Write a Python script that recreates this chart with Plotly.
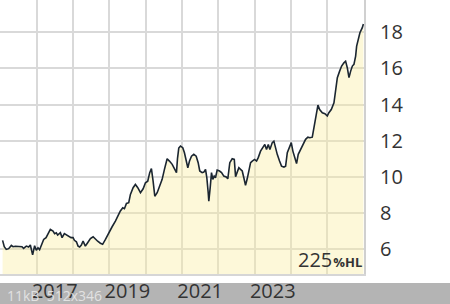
import plotly.graph_objects as go

dates = [
    "2016-01-24", "2016-02-10", "2016-03-01", "2016-03-25", "2016-04-21", "2016-05-08", "2016-05-31",
    "2016-07-03", "2016-08-06", "2016-08-22", "2016-09-19", "2016-10-12", "2016-10-29", "2016-11-21",
    "2016-12-01", "2016-12-11", "2016-12-28", "2017-01-14", "2017-01-30", "2017-02-24", "2017-03-12",
    "2017-04-05", "2017-04-21", "2017-05-18", "2017-06-14", "2017-06-30", "2017-07-17", "2017-07-31",
    "2017-08-27", "2017-09-13", "2017-10-06", "2017-10-26", "2017-11-18", "2017-12-12", "2018-01-01",
    "2018-01-15", "2018-02-04", "2018-02-21", "2018-03-09", "2018-03-26", "2018-04-12", "2018-05-05",
    "2018-05-28", "2018-06-25", "2018-07-22", "2018-08-14", "2018-09-06", "2018-10-03", "2018-10-26",
    "2018-11-23", "2018-12-26", "2019-01-29", "2019-03-03", "2019-03-26", "2019-04-22", "2019-05-16",
    "2019-06-02", "2019-06-22", "2019-07-15", "2019-08-01", "2019-08-28", "2019-09-20", "2019-10-14",
    "2019-11-10", "2019-12-07", "2019-12-30", "2020-01-22", "2020-02-11", "2020-02-28", "2020-03-16",
    "2020-04-02", "2020-04-26", "2020-05-22", "2020-06-15", "2020-07-08", "2020-08-04", "2020-08-27",
    "2020-09-24", "2020-10-20", "2020-11-06", "2020-11-16", "2020-11-29", "2020-12-16", "2021-01-08",
    "2021-01-25", "2021-02-11", "2021-02-28", "2021-03-17", "2021-04-06", "2021-04-29", "2021-05-23",
    "2021-06-12", "2021-06-28", "2021-07-22", "2021-08-08", "2021-08-25", "2021-09-07", "2021-09-21",
    "2021-09-27", "2021-10-11", "2021-10-24", "2021-11-06", "2021-11-20", "2021-12-03", "2021-12-20",
    "2022-01-13", "2022-02-02", "2022-02-25", "2022-03-21", "2022-04-06", "2022-04-26", "2022-05-20",
    "2022-06-10", "2022-06-23", "2022-07-10", "2022-07-26", "2022-08-12", "2022-08-29", "2022-09-14",
    "2022-10-01", "2022-10-18", "2022-11-03", "2022-11-21", "2022-12-08", "2022-12-31", "2023-01-20",
    "2023-02-06", "2023-03-01", "2023-03-24", "2023-04-13", "2023-04-30", "2023-05-18", "2023-06-03",
    "2023-06-27", "2023-07-13", "2023-07-28", "2023-08-16", "2023-09-08", "2023-09-28", "2023-10-22",
    "2023-11-08", "2023-11-25", "2023-12-18", "2024-01-04", "2024-01-20", "2024-02-16", "2024-02-26",
    "2024-03-14", "2024-04-07", "2024-04-30", "2024-05-27", "2024-06-19", "2024-07-09", "2024-08-02",
    "2024-08-18", "2024-09-12", "2024-09-28", "2024-10-15", "2024-11-11", "2024-12-07", "2024-12-31",
    "2025-01-16", "2025-02-09", "2025-03-08", "2025-03-25", "2025-04-11", "2025-05-04", "2025-05-24",
    "2025-06-16", "2025-07-03", "2025-07-20", "2025-08-06", "2025-08-23", "2025-09-09", "2025-09-25",
    "2025-10-12", "2025-10-22", "2025-11-08", "2025-11-24", "2025-12-18", "2025-12-29",
]

values = [
    6.50, 6.15, 6.00, 6.04, 6.22, 6.15, 6.17,
    6.15, 6.15, 6.05, 6.18, 6.13, 6.24, 5.70,
    6.09, 6.20, 5.95, 6.09, 5.98, 6.28, 6.55,
    6.65, 6.80, 7.10, 7.01, 6.87, 6.92, 6.79,
    6.92, 6.65, 6.87, 6.79, 6.70, 6.65, 6.65,
    6.50, 6.42, 6.18, 6.13, 6.24, 6.46, 6.18,
    6.37, 6.60, 6.70, 6.55, 6.45, 6.34, 6.28,
    6.55, 6.92, 7.25, 7.56, 7.84, 8.12, 8.30,
    8.25, 8.54, 8.58, 9.04, 9.41, 9.59, 9.41,
    9.13, 9.35, 9.68, 9.77, 10.24, 10.46, 9.77,
    8.94, 9.13, 9.50, 9.87, 10.42, 11.01, 10.88,
    10.70, 10.42, 10.24, 11.00, 11.60, 11.71, 11.62,
    11.34, 10.88, 10.51, 10.88, 11.15, 11.25, 11.15,
    10.79, 10.33, 10.24, 10.27, 10.42, 9.96, 9.13,
    8.67, 9.41, 10.24, 9.87, 10.05, 9.96, 10.38,
    10.33, 10.24, 10.05, 10.00, 9.90, 10.79, 11.01,
    10.97, 10.02, 10.33, 10.51, 10.42, 10.33, 9.96,
    9.54, 9.90, 10.42, 10.79, 10.88, 10.97, 10.88,
    11.07, 11.43, 11.62, 11.80, 11.52, 11.80, 11.52,
    11.90, 11.98, 11.60, 11.25, 10.88, 10.60, 10.55,
    10.60, 11.34, 11.71, 11.90, 11.43, 10.88, 10.74,
    11.25, 11.52, 11.71, 12.08, 12.20, 12.17, 12.20,
    12.72, 13.46, 13.97, 13.73, 13.55, 13.50, 13.37,
    13.55, 13.73, 14.10, 14.75, 15.49, 15.85, 16.13,
    16.31, 16.40, 16.04, 15.49, 15.85, 16.13, 16.22,
    16.68, 17.23, 17.69, 17.97, 18.25, 18.45,
]

year_grid = ["2016-01-01", "2017-01-01", "2018-01-01", "2019-01-01", "2020-01-01",
             "2021-01-01", "2022-01-01", "2023-01-01", "2024-01-01", "2025-01-01"]
year_label_pos = ["2017-07-02", "2019-07-02", "2021-07-02", "2023-07-02"]
year_labels = ["2017", "2019", "2021", "2023"]
y_ticks = [6, 8, 10, 12, 14, 16, 18]
y_labels = ["6", "8", "10", "12", "14", "16", "18"]
badge_value = "225"
badge_unit = "%HL"

FONT = "Open Sans"
TXT = "#333333"
PLOT_W, PLOT_H = 364, 274

fig = go.Figure()
fig.add_trace(go.Scatter(
    x=dates, y=values, mode="lines",
    line=dict(color="#1b2631", width=1.6),
    fill="tozeroy", fillcolor="rgba(250,238,160,0.40)",
    hoverinfo="skip", showlegend=False,
))

fig.update_layout(
    width=450, height=304,
    margin=dict(l=0, r=450 - PLOT_W, t=0, b=304 - PLOT_H, autoexpand=False),
    paper_bgcolor="white", plot_bgcolor="white",
    font=dict(family=FONT, color=TXT, size=20),
    xaxis=dict(
        type="date", range=["2015-12-29", "2026-01-04"], automargin=False,
        tickmode="array", tickvals=year_label_pos, ticktext=year_labels,
        showgrid=False, ticks="", ticklabelstandoff=-2,
        tickfont=dict(family=FONT, size=20, color=TXT),
        showline=True, linecolor="#d6d6d6", linewidth=2,
        zeroline=False,
        minor=dict(tickmode="array", tickvals=year_grid, showgrid=True,
                   gridcolor="#d9d9d9", gridwidth=2, ticks=""),
    ),
    yaxis=dict(
        range=[4.64, 19.78], side="right", automargin=False,
        tickmode="array", tickvals=y_ticks, ticktext=y_labels,
        showgrid=True, gridcolor="#d9d9d9", gridwidth=2,
        ticks="", ticklabelstandoff=10,
        tickfont=dict(family=FONT, size=20, color=TXT),
        showline=True, linecolor="#d0d0d0", linewidth=2,
        zeroline=False,
    ),
    shapes=[dict(type="rect", xref="paper", yref="paper",
                 x0=0, x1=450 / PLOT_W, y0=-(283 - PLOT_H) / PLOT_H, y1=-(304 - PLOT_H + 2) / PLOT_H,
                 fillcolor="#b4b4b4", line=dict(width=0), layer="below")],
    annotations=[
        dict(xref="paper", yref="paper", x=1.0, y=-1 / PLOT_H, xanchor="right", yanchor="bottom",
             showarrow=False,
             text=badge_value + "<span style='font-size:4px'> </span><span style='font-size:13px'><b>"
                  + badge_unit + "</b></span>",
             font=dict(family=FONT, size=20, color=TXT)),
        dict(xref="paper", yref="paper", x=5 / PLOT_W, y=-21 / PLOT_H, xanchor="left", yanchor="middle",
             showarrow=False, text="11kB  512x346",
             font=dict(family=FONT, size=14, color="rgba(235,235,235,0.85)")),
    ],
)

fig.write_html("out.html")
